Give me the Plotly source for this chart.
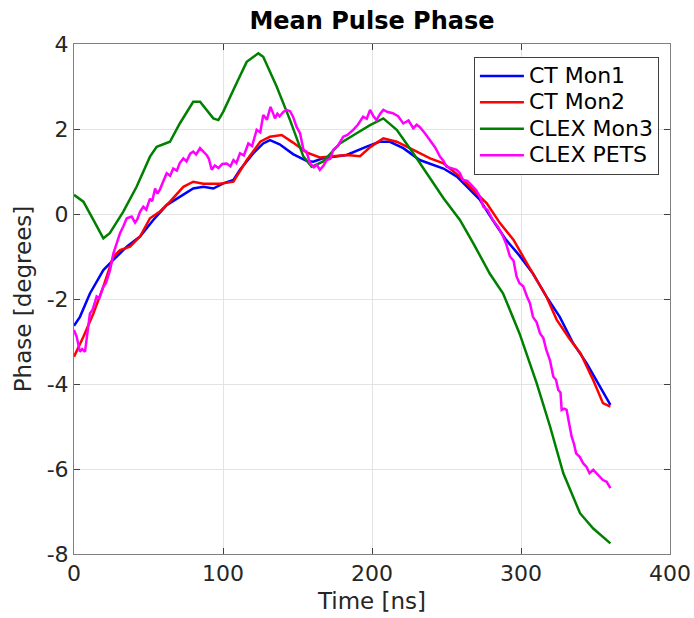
import plotly.graph_objects as go

# CT Mon1 (blue)
t_blue = [0, 4, 10.7, 19.7, 26.4, 35.4, 44.3, 53.2, 62.2, 71.1, 80, 86.8, 93.5, 100.2, 107, 111.4, 120.4, 127, 131.5, 138, 147, 156, 160.6, 167, 183, 196, 205, 212, 221, 232, 241, 248, 257, 266, 272.5, 281, 290, 299, 308, 317, 326, 335, 344, 353, 360]
y_blue = [-2.63, -2.42, -1.87, -1.32, -1.08, -0.77, -0.53, -0.14, 0.21, 0.41, 0.6, 0.64, 0.6, 0.72, 0.8, 1.04, 1.43, 1.66, 1.74, 1.64, 1.41, 1.25, 1.23, 1.31, 1.39, 1.58, 1.70, 1.70, 1.55, 1.27, 1.15, 1.07, 0.88, 0.56, 0.33, -0.14, -0.61, -0.98, -1.40, -1.94, -2.42, -3.04, -3.51, -4.06, -4.49]

# CT Mon2 (red)
t_red = [0, 6.3, 13, 19.7, 26.4, 30.9, 37.6, 44.3, 51, 57.7, 64.4, 73.4, 80, 86.8, 98, 107, 116, 125, 131.5, 139.4, 147, 156, 165, 183, 192, 199, 207.6, 216.6, 227.7, 239, 248, 259, 268, 277, 286, 295, 304, 308, 317, 324, 333, 340, 348.5, 355, 360]
y_red = [-3.36, -2.89, -2.34, -1.71, -1.0, -0.85, -0.77, -0.53, -0.10, 0.06, 0.29, 0.64, 0.76, 0.71, 0.71, 0.76, 1.27, 1.70, 1.82, 1.86, 1.68, 1.45, 1.33, 1.39, 1.36, 1.58, 1.78, 1.70, 1.51, 1.31, 1.19, 0.88, 0.56, 0.25, -0.22, -0.61, -1.16, -1.40, -1.94, -2.49, -2.96, -3.28, -3.91, -4.45, -4.53]

# CLEX Mon3 (green)
t_green = [0, 6.3, 13, 19.7, 24, 33, 42, 51, 55.5, 64.4, 71, 80, 84.6, 93.5, 96.9, 100.2, 109, 115.9, 123.7, 127, 136, 145, 154, 159.5, 167, 178.5, 189.7, 198.7, 207.6, 216.6, 227.7, 236.7, 248, 259, 268, 279, 288, 299, 310.5, 319.5, 328.4, 339.6, 348.5, 360]
y_green = [0.45, 0.29, -0.14, -0.57, -0.45, 0.05, 0.64, 1.35, 1.58, 1.70, 2.13, 2.64, 2.64, 2.25, 2.21, 2.41, 3.07, 3.58, 3.78, 3.70, 3.0, 2.21, 1.35, 1.11, 1.23, 1.66, 1.90, 2.09, 2.25, 1.98, 1.43, 0.96, 0.37, -0.14, -0.69, -1.40, -1.87, -2.81, -3.98, -5.0, -6.10, -7.04, -7.40, -7.75]

# CLEX PETS (magenta)
t_mag = [0, 1.8, 4, 5.5, 7.4, 8.5, 10.7, 12.5, 15.2, 17, 19.7, 21.5, 24.2, 26.4, 28.6, 30.9, 33, 35.4, 38.7, 41, 42.5, 44.3, 46.5, 48.5, 51, 52.5, 54.4, 56, 57.7, 60, 62.2, 64.5, 66.6, 69, 71, 73.4, 75.5, 78, 80, 82, 84.6, 87, 89, 90.5, 92.4, 94.5, 97, 99.5, 102.5, 105, 107, 109, 111.4, 114, 117, 119.5, 122.6, 125, 127, 129.5, 131.9, 133.5, 134.9, 136.5, 138, 140.5, 142.7, 145, 147, 149.4, 151.7, 154, 156, 158.4, 161, 163, 165, 167.5, 169.6, 172, 174, 177, 180.7, 183.5, 187.4, 190.5, 194, 196.5, 198.7, 201, 203, 205.5, 207.6, 210.5, 214, 217.5, 221, 224.5, 227.7, 230, 232, 235.5, 239, 242.5, 245.6, 248, 250, 253.5, 256.8, 259, 261, 264, 267, 270, 272.5, 274.7, 277.5, 281, 284.5, 288, 290, 292.6, 295, 297, 299, 301.5, 304, 306, 308, 310.5, 312.8, 315, 317, 319.5, 321.7, 323.5, 325, 326.5, 327.3, 329, 330.6, 332.5, 334, 335.5, 337, 339.5, 341.8, 344, 346, 348.5, 350.7, 352.5, 355, 357.5, 360]
y_mag = [-2.73, -2.89, -3.24, -3.18, -3.24, -2.89, -2.34, -2.25, -1.94, -1.98, -1.71, -1.62, -1.32, -0.93, -0.69, -0.45, -0.30, -0.10, -0.06, -0.20, -0.12, 0.05, 0.17, 0.10, 0.36, 0.30, 0.60, 0.48, 0.58, 0.80, 0.96, 0.90, 1.07, 1.02, 1.20, 1.31, 1.24, 1.42, 1.47, 1.40, 1.55, 1.46, 1.39, 1.30, 1.04, 1.14, 1.08, 1.18, 1.19, 1.12, 1.27, 1.20, 1.43, 1.38, 1.66, 1.60, 1.98, 1.92, 2.33, 2.22, 2.52, 2.38, 2.25, 2.36, 2.30, 2.40, 2.45, 2.42, 2.29, 2.05, 1.90, 1.51, 1.47, 1.19, 1.10, 1.16, 1.04, 1.14, 1.27, 1.30, 1.51, 1.60, 1.82, 1.86, 1.98, 2.10, 2.29, 2.24, 2.45, 2.30, 2.21, 2.36, 2.45, 2.40, 2.37, 2.30, 2.13, 2.20, 2.02, 2.10, 2.05, 1.90, 1.74, 1.56, 1.35, 1.25, 1.11, 1.08, 1.04, 0.96, 0.80, 0.78, 0.66, 0.56, 0.40, 0.17, 0.10, -0.14, -0.30, -0.53, -0.70, -1.0, -1.10, -1.47, -1.63, -1.70, -1.94, -2.10, -2.42, -2.55, -2.81, -2.92, -3.20, -3.45, -3.83, -3.90, -4.14, -4.20, -4.61, -4.58, -4.61, -4.95, -5.24, -5.40, -5.63, -5.72, -5.87, -5.95, -6.10, -6.02, -6.10, -6.18, -6.26, -6.30, -6.45]

x_ticks = [0, 100, 200, 300, 400]
y_ticks = [-8, -6, -4, -2, 0, 2, 4]
y_tick_text = ["-8", "-6", "-4", "-2", "0", "2", "4"]

series = [
    ("CT Mon1", t_blue, y_blue, "#0000ff"),
    ("CT Mon2", t_red, y_red, "#ff0000"),
    ("CLEX Mon3", t_green, y_green, "#008000"),
    ("CLEX PETS", t_mag, y_mag, "#ff00ff"),
]

fig = go.Figure()
for name, tx, ty, col in series:
    fig.add_trace(go.Scatter(x=tx, y=ty, mode="lines",
                             name='<span style="font-size:22px">%s</span>' % name,
                             line=dict(color=col, width=2.5)))

FONT = "DejaVu Sans"
axis_common = dict(
    showline=True, linecolor="#808080", linewidth=1, mirror="allticks",
    ticks="inside", ticklen=6, tickcolor="#404040",
    showgrid=True, gridcolor="#e3e3e3", gridwidth=1, zeroline=False,
    automargin=False,
    tickfont=dict(family=FONT, size=22, color="#262626"),
)

fig.update_layout(
    width=694, height=618,
    margin=dict(l=74, r=24, t=44, b=64),
    paper_bgcolor="white", plot_bgcolor="white",
    title=dict(text="<b>Mean Pulse Phase</b>", x=0.536, xanchor="center", y=0.966, yanchor="middle",
               font=dict(family=FONT, size=24, color="black")),
    xaxis=dict(range=[0, 400], tickvals=x_ticks,
               title=dict(text="Time [ns]", standoff=7, font=dict(family=FONT, size=23, color="#262626")),
               **axis_common),
    yaxis=dict(range=[-8, 4], tickvals=y_ticks, ticktext=y_tick_text,
               title=dict(text="Phase [degrees]", standoff=8, font=dict(family=FONT, size=23, color="#262626")),
               **axis_common),
    legend=dict(x=0.671, y=0.975, xanchor="left", yanchor="top",
                bgcolor="white", bordercolor="#404040", borderwidth=1,
                font=dict(family=FONT, size=18, color="black"),
                itemwidth=44, tracegroupgap=0),
    showlegend=True,
)

fig.write_html("out.html")
